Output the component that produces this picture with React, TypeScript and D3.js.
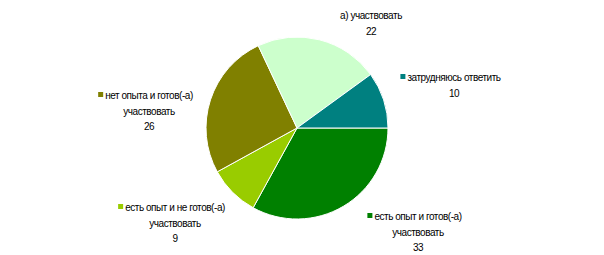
import React from "react";
import * as d3 from "d3";

const categories = [
  "есть опыт и готов(-а) участвовать",
  "есть опыт и не готов(-а) участвовать",
  "нет опыта и готов(-а) участвовать",
  "а) участвовать",
  "затрудняюсь ответить",
];
const values = [33, 9, 26, 22, 10];
const colors = ["#008000", "#99CC00", "#808000", "#CCFFCC", "#008080"];
// label text lines for each slice
const labelLines = [
  ["есть опыт и готов(-а)", "участвовать", "33"],
  ["есть опыт и не готов(-а)", "участвовать", "9"],
  ["нет опыта и готов(-а)", "участвовать", "26"],
  ["а) участвовать", "22"],
  ["затрудняюсь ответить", "10"],
];
const hasMarker = [true, true, true, false, true];

// layout (label centers, first-line baselines)
const labelPos = [
  { x: 418, y: 220 },
  { x: 175, y: 211 },
  { x: 149, y: 99 },
  { x: 371, y: 19 },
  { x: 454, y: 81 },
];

const W = 604, H = 255;
const cx = 297, cy = 128, R = 91;
const FONT = "'Liberation Sans', Arial, sans-serif";
const FS = 10;
const LH = 15.5;

export default function App() {
  const pie = d3
    .pie<number>()
    .sort(null)
    .startAngle(Math.PI / 2)
    .endAngle(Math.PI / 2 + 2 * Math.PI)(values);
  const arc = d3.arc<d3.PieArcDatum<number>>().innerRadius(0).outerRadius(R);

  return (
    <svg width={W} height={H} style={{ position: "absolute", left: 0, top: 0, background: "#fff" }}>
      <g transform={`translate(${cx},${cy})`}>
        {pie.map((d, i) => (
          <path key={i} d={arc(d) || ""} fill={colors[i]} stroke="#fff" strokeWidth={1}>
            <title>{categories[i]}</title>
          </path>
        ))}
      </g>
      {labelLines.map((lines, i) => {
        const p = labelPos[i];
        return (
          <g key={i} fontFamily={FONT} fontSize={FS} fill="#000" letterSpacing={-0.45}>
            {lines.map((t, j) => (
              <text key={j} x={p.x} y={p.y + j * LH} textAnchor="middle">
                {t}
              </text>
            ))}
          </g>
        );
      })}
      {labelLines.map((lines, i) => {
        if (!hasMarker[i]) return null;
        const p = labelPos[i];
        const w = measure(lines[0]);
        return (
          <rect key={"m" + i} x={p.x - w / 2 - 7} y={p.y - 7} width={5} height={5} fill={colors[i]} />
        );
      })}
    </svg>
  );
}

function measure(t: string): number {
  if (typeof document === "undefined") return t.length * 4.5;
  const c = document.createElement("canvas");
  const ctx = c.getContext("2d");
  if (!ctx) return t.length * 4.5;
  ctx.font = `${FS}px 'Liberation Sans'`;
  return ctx.measureText(t).width - 0.45 * t.length;
}
